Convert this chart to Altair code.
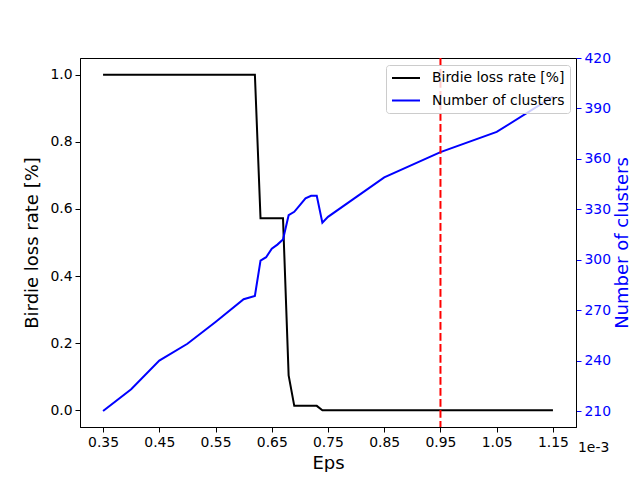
import altair as alt
import pandas as pd

eps = [0.35, 0.40, 0.45, 0.50, 0.55, 0.60, 0.62, 0.63, 0.64, 0.65, 0.66, 0.67,
       0.68, 0.69, 0.70, 0.71, 0.72, 0.73, 0.74, 0.75, 0.85, 0.95, 1.05, 1.15]
loss = [1, 1, 1, 1, 1, 1, 1, 0.572, 0.572, 0.572, 0.572, 0.572,
        0.104, 0.013, 0.013, 0.013, 0.013, 0.013, 0, 0, 0, 0, 0, 0]
clusters = [210, 223, 240, 250, 263, 276.5, 278.5, 299.5, 301.5, 306.5, 309, 312,
            326.5, 328.5, 332.5, 336.5, 338, 338, 322, 325.5, 349, 364, 376, 397]
x_ticks = [0.35, 0.45, 0.55, 0.65, 0.75, 0.85, 0.95, 1.05, 1.15]
left_ticks = [0.0, 0.2, 0.4, 0.6, 0.8, 1.0]
right_ticks = [210, 240, 270, 300, 330, 360, 390, 420]
chosen_eps = [0.95]
series = ["Birdie loss rate [%]", "Number of clusters"]
series_colors = ["black", "blue"]

df = pd.DataFrame({"eps": eps, "loss": loss, "clusters": clusters})
rule_df = pd.DataFrame({"eps": chosen_eps})

FONT = "DejaVu Sans"
xscale = alt.Scale(domain=[0.309, 1.191], nice=False, zero=False)
color = alt.Color("s:N", scale=alt.Scale(domain=series, range=series_colors),
                  legend=alt.Legend(title=None, orient="none", legendX=306, legendY=7,
                                    symbolType="M-1,0H3", symbolSize=196, symbolStrokeWidth=2,
                                    labelFontSize=13.9, labelFont=FONT, labelColor="black",
                                    padding=5, rowPadding=7.5, labelOffset=25,
                                    fillColor="rgba(255,255,255,0.8)", strokeColor="#cccccc",
                                    cornerRadius=3))

x_enc = alt.X("eps:Q", scale=xscale,
              axis=alt.Axis(values=x_ticks, format=".2f", title="Eps", tickSize=5,
                            labelPadding=3, titleFontSize=18, titlePadding=6))

black = alt.Chart(df).transform_calculate(s="'Birdie loss rate [%]'").mark_line(strokeWidth=2).encode(
    x=x_enc,
    y=alt.Y("loss:Q", scale=alt.Scale(domain=[-0.05, 1.05], nice=False, zero=False),
            axis=alt.Axis(values=left_ticks, format=".1f", title="Birdie loss rate [%]",
                          tickSize=5, labelPadding=3, titleFontSize=18, titlePadding=8)),
    color=color,
)

blue = alt.Chart(df).transform_calculate(s="'Number of clusters'").mark_line(strokeWidth=2).encode(
    x=alt.X("eps:Q", scale=xscale),
    y=alt.Y("clusters:Q", scale=alt.Scale(domain=[200.5, 420], nice=False, zero=False),
            axis=alt.Axis(orient="right", values=right_ticks, format="d", title="Number of clusters",
                          tickSize=5, labelPadding=3, titleFontSize=18, titlePadding=3,
                          titleAngle=270, titleBaseline="top",
                          labelColor="blue", tickColor="blue", titleColor="blue")),
    color=color,
)

rule = alt.Chart(rule_df).mark_rule(color="red", strokeWidth=2, strokeDash=[7.7, 3.3]).encode(
    x=alt.X("eps:Q", scale=xscale)
)

offset_txt = alt.Chart(pd.DataFrame({"t": ["1e-3"]})).mark_text(
    align="left", baseline="middle", fontSize=13.9, font=FONT, color="black"
).encode(text="t:N", x=alt.value(498), y=alt.value(390))

chart = alt.layer(black, blue, rule, offset_txt).resolve_scale(y="independent").properties(
    width=496, height=369,
    autosize=alt.AutoSizeParams(type="none"),
    padding={"left": 72, "top": 50, "right": 56, "bottom": 45},
).configure_view(stroke="black", strokeWidth=1).configure_axis(
    grid=False, labelFont=FONT, titleFont=FONT, labelFontSize=13.9, titleFontWeight="normal",
    domainColor="black", tickColor="black", labelColor="black", titleColor="black",
    domainWidth=1, tickWidth=1,
)

chart.save("out.html", embed_options={"renderer": "svg", "actions": False})
